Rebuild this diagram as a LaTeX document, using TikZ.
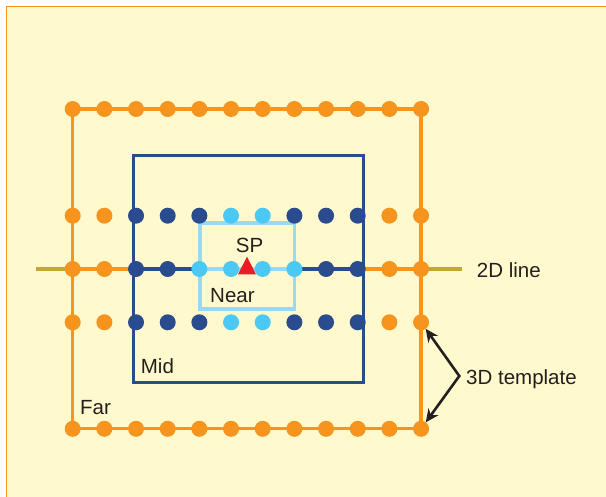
\documentclass[tikz,border=0pt]{standalone}
\usepackage{fontspec}
\setmainfont{Liberation Sans}
\usetikzlibrary{arrows.meta,positioning,backgrounds}
\definecolor{farC}{HTML}{F7941D}
\definecolor{midC}{HTML}{2A4B8D}
\definecolor{nearC}{HTML}{4CC8F4}
\definecolor{nearL}{HTML}{9AD9F5}
\definecolor{lineC}{HTML}{C6A537}
\definecolor{spC}{HTML}{ED1C24}
\definecolor{paperC}{HTML}{FFF9CD}
\definecolor{inkC}{HTML}{231F20}
\tikzset{
  dot/.style={circle, fill=#1, minimum size=16pt, inner sep=0pt, outer sep=0pt},
  seg/.style={draw=#1, line width=3.2pt},
  zone/.style={rectangle, draw=#1, line width=3pt, inner sep=0pt},
  lbl/.style={font=\fontsize{20.5}{24}\selectfont, text=inkC, inner sep=0pt, anchor=base west},
  arr/.style={{Stealth[length=13pt, width=12pt]}-{Stealth[length=13pt, width=12pt]},
              line width=2.6pt, draw=inkC},
}

\begin{document}
\begin{tikzpicture}[x=1pt, y=-1pt]
    \useasboundingbox (0,0) rectangle (606,497);
    % template points: rows t,u,m,l,b
    \foreach \r/\y in {t/109, b/428.8}
      \foreach \i in {0,...,11}
        \node[dot=farC] (\r\i) at ({72.7+31.67*\i}, \y) {};
    \foreach \r/\y in {u/215.7, m/269, l/322.3}
      \foreach \i in {0,1,10,11}
        \node[dot=farC] (\r\i) at ({72.7+31.67*\i}, \y) {};
    \foreach \r/\y in {u/215.7, l/322.3} {
      \foreach \i in {2,3,4,7,8,9}
        \node[dot=midC] (\r\i) at ({72.7+31.67*\i}, \y) {};
      \foreach \i in {5,6}
        \node[dot=nearC] (\r\i) at ({72.7+31.67*\i}, \y) {};
    }
    \foreach \i in {2,3,8,9}
      \node[dot=midC] (m\i) at ({72.7+31.67*\i}, 269) {};
    \foreach \i in {4,...,7}
      \node[dot=nearC] (m\i) at ({72.7+31.67*\i}, 269) {};

    \begin{scope}[on background layer]
      \fill[paperC] (6.5,6.5) rectangle (606,497);
      \draw[farC, line width=1.5pt] (6.5,497) -- (6.5,6.5) -- (606,6.5);
      \coordinate (lineW) at (36,269);
      \coordinate (lineE) at (462,269);
      \draw[lineC, line width=4pt] (lineW) -- (lineE);
      \draw[seg=farC] (t0.center) -- (t11.center) -- (b11.center) -- (b0.center) -- cycle;
      \node[zone=midC, minimum width=230.5pt, minimum height=227.3pt] (mid) at (248.7,268.7) {};
      \node[zone=nearL, line width=3.6pt, minimum width=94.3pt, minimum height=86.3pt] (near) at (247.2,265.9) {};
      % 2D line through the three zones
      \draw[seg=farC] (m0.center) -- (m0.center -| mid.west);
      \draw[seg=midC] (m0.center -| mid.west) -- (m4.center);
      \draw[seg=nearL, line width=3.8pt] (m4.center) -- (m7.center);
      \draw[seg=midC] (m7.center) -- (m0.center -| mid.east);
      \draw[seg=farC] (m0.center -| mid.east) -- (m11.center);
    \end{scope}

    % search point
    \coordinate (sp) at (247,265.5);
    \fill[spC] ([shift={(-9,8.8)}]sp) -- ([shift={(9,8.8)}]sp) -- ([shift={(0,-8.8)}]sp) -- cycle;

    \node[lbl, anchor=base] (spT) at (249.5,253) {SP};
    \node[lbl] (nearT) at (210,302.4) {Near};
    \node[lbl] (midT) at (140.7,373.2) {Mid};
    \node[lbl] (farT) at (80,414.1) {Far};
    \node[lbl] (lineT) at (476.7,277.4) {2D line};
    \node[lbl] (tmplT) at (466,384.1) {3D template};
    \coordinate (fork) at (459.3,376);
    \draw[arr] (l11) -- (fork) -- (b11);
\end{tikzpicture}
\end{document}
